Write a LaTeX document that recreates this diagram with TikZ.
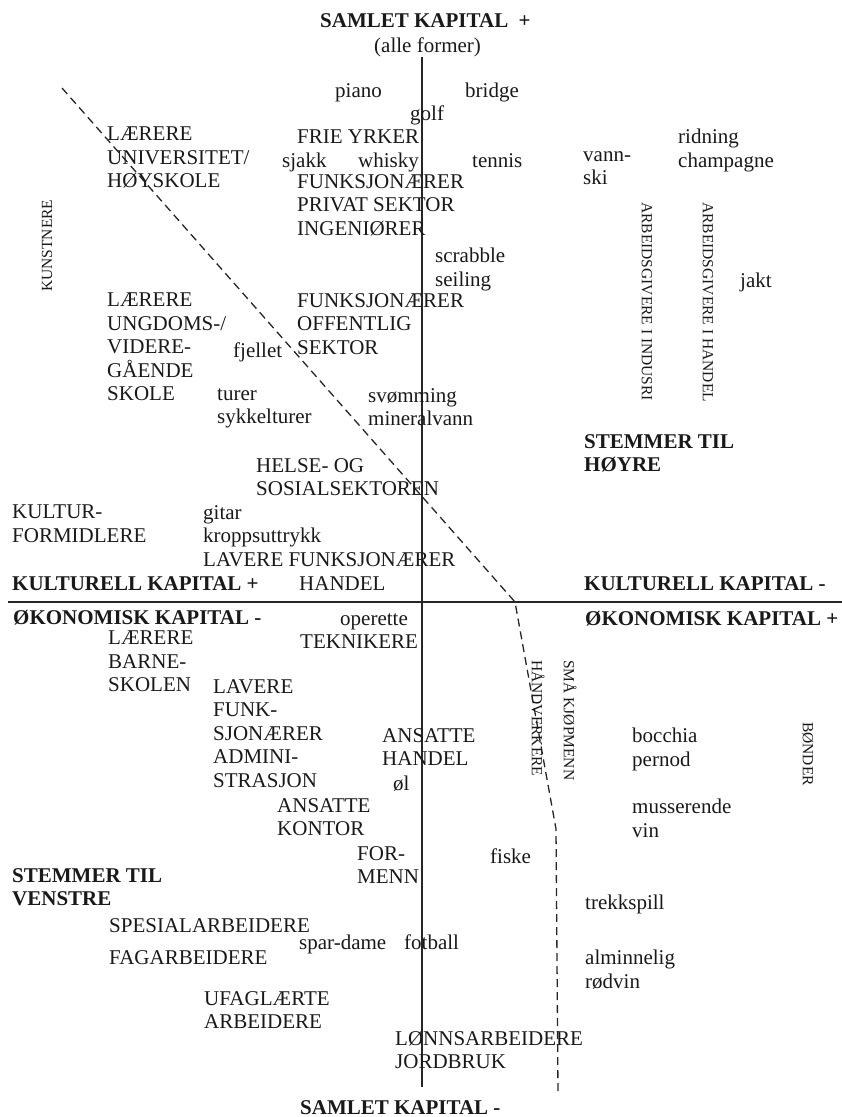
\documentclass[tikz,border=0pt]{standalone}
\usepackage{fontspec}
\setmainfont{Liberation Serif}
\usepackage{tikz}
\usetikzlibrary{positioning}

\begin{document}
\begin{tikzpicture}[x=1pt, y=-1pt,
    every node/.style={text=black!90},
    lbl/.style={anchor=north west, yshift=16pt, inner sep=0pt, align=left,
      font=\fontsize{21}{23.5}\selectfont,
      execute at begin node={\rule{0pt}{16pt}}},
    hd/.style={lbl, font=\fontsize{21}{23.5}\selectfont\bfseries},
    vlbl/.style={anchor=west, inner sep=0pt, rotate=-90,
      font=\fontsize{15.5}{18}\selectfont},
    axis/.style={black!85, line width=1.1pt},
    border/.style={black!85, line width=1.3pt, dash pattern=on 8pt off 5pt}]

\useasboundingbox (0,0) rectangle (842,1117);

% Axes
\coordinate (vtop) at (422,57);
\coordinate (vbot) at (422,1087);
\coordinate (hleft) at (8,602);
\coordinate (hright) at (842,602);
\draw[axis] (vtop) -- (vbot);
\draw[axis] (hleft) -- (hright);

% Dashed border line
\coordinate (d1) at (62,88);
\coordinate (d2) at (515,602);
\coordinate (d3) at (556,829);
\coordinate (d4) at (558,1092);
\draw[border] (d1) -- (d2) -- (d3) -- (d4);

% Axis titles
\node[hd] (samletp) at (320,27) {SAMLET KAPITAL~~+};
\node[lbl] (alle) at (374,52) {(alle former)};
\node[hd] (samletm) at (300,1114) {SAMLET KAPITAL -};
\node[hd] (kultp) at (12,590) {KULTURELL KAPITAL +};
\node[hd] (kultm) at (584,590) {KULTURELL KAPITAL -};
\node[hd] (okm) at (13,624) {ØKONOMISK KAPITAL -};
\node[hd] (okp) at (585,625) {ØKONOMISK KAPITAL +};
\node[hd] (hoyre) at (584,450) {STEMMER TIL\\HØYRE};
\node[hd] (venstre) at (12,884) {STEMMER TIL\\VENSTRE};

% Upper left quadrant
\node[lbl] (piano) at (335,97) {piano};
\node[lbl] (golf) at (410,120) {golf};
\node[lbl] (laerUni) at (107,143) {LÆRERE\\UNIVERSITET/\\HØYSKOLE};
\node[lbl] (frie) at (297,143) {FRIE YRKER};
\node[lbl] (sjakk) at (282,167) {sjakk};
\node[lbl] (whisky) at (358,167) {whisky};
\node[lbl] (funkPriv) at (297,190) {FUNKSJONÆRER\\PRIVAT SEKTOR\\INGENIØRER};
\node[lbl] (laerUng) at (107,309) {LÆRERE\\UNGDOMS-/\\VIDERE-\\GÅENDE\\SKOLE};
\node[lbl] (funkOff) at (297,309) {FUNKSJONÆRER\\OFFENTLIG\\SEKTOR};
\node[lbl] (fjellet) at (233,357) {fjellet};
\node[lbl] (turer) at (217,404) {turer\\sykkelturer};
\node[lbl] (svom) at (368,404) {svømming\\mineralvann};
\node[lbl] (helse) at (256,474) {HELSE- OG\\SOSIALSEKTOREN};
\node[lbl] (kultform) at (12,521) {KULTUR-\\FORMIDLERE};
\node[lbl] (gitar) at (203,521) {gitar\\kroppsuttrykk\\LAVERE FUNKSJONÆRER};
\node[lbl] (handelA) at (299,590) {HANDEL};
\node[vlbl, rotate=180] (kunst) at (47,292) {KUNSTNERE};

% Upper right quadrant
\node[lbl] (bridge) at (465,97) {bridge};
\node[lbl] (tennis) at (472,167) {tennis};
\node[lbl] (vann) at (583,167) {vann-\\ski};
\node[lbl] (ridning) at (678,145) {ridning\\champagne};
\node[lbl] (scrabble) at (435,264) {scrabble\\seiling};
\node[lbl] (jakt) at (740,287) {jakt};
\node[vlbl] (agInd) at (647,202) {ARBEIDSGIVERE I INDUSRI};
\node[vlbl] (agHan) at (708,202) {ARBEIDSGIVERE I HANDEL};

% Lower left quadrant
\node[lbl] (operette) at (340,625) {operette};
\node[lbl] (laerBarn) at (108,647) {LÆRERE\\BARNE-\\SKOLEN};
\node[lbl] (tekn) at (300,648) {TEKNIKERE};
\node[lbl] (lavAdm) at (213,695) {LAVERE\\FUNK-\\SJONÆRER\\ADMINI-\\STRASJON};
\node[lbl] (ansHan) at (382,744) {ANSATTE\\HANDEL};
\node[lbl] (ol) at (393,790) {øl};
\node[lbl] (ansKon) at (277,814) {ANSATTE\\KONTOR};
\node[lbl] (formenn) at (357,862) {FOR-\\MENN};
\node[lbl] (spes) at (109,932) {SPESIALARBEIDERE};
\node[lbl] (spar) at (299,949) {spar-dame};
\node[lbl] (fotball) at (404,949) {fotball};
\node[lbl] (fag) at (109,964) {FAGARBEIDERE};
\node[lbl] (ufag) at (204,1007) {UFAGLÆRTE\\ARBEIDERE};
\node[lbl] (lonn) at (395,1047) {LØNNSARBEIDERE\\JORDBRUK};

% Lower right quadrant
\node[lbl] (fiske) at (490,863) {fiske};
\node[vlbl] (handv) at (538,660) {HÅNDVERKERE};
\node[vlbl] (smaa) at (570,660) {SMÅ KJØPMENN};
\node[lbl] (bocchia) at (632,744) {bocchia\\pernod};
\node[lbl] (muss) at (632,815) {musserende\\vin};
\node[vlbl] (bonder) at (808,722) {BØNDER};
\node[lbl] (trekk) at (585,909) {trekkspill};
\node[lbl] (almin) at (585,966) {alminnelig\\rødvin};

\end{tikzpicture}
\end{document}
